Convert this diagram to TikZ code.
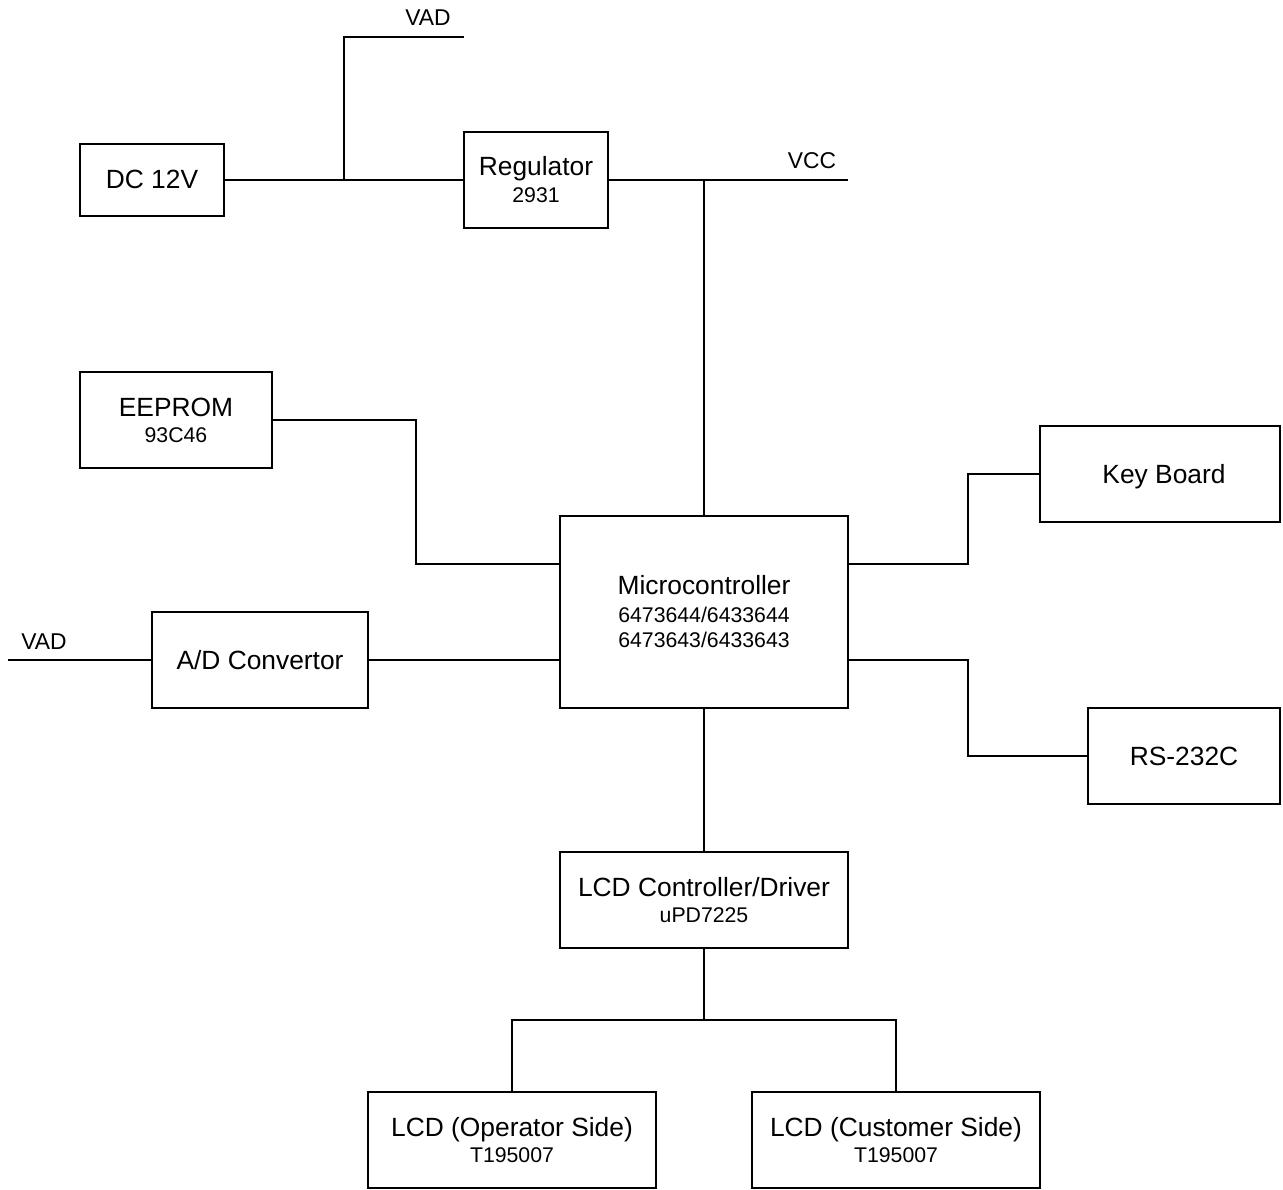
\documentclass[tikz,border=0pt]{standalone}
\usepackage{fontspec}
\setmainfont{Liberation Sans}
\begin{document}
\begin{tikzpicture}[x=0.02cm,y=-0.02cm,
  box/.style={draw,line width=0.7pt,inner sep=0pt,minimum height=1.92cm},
  wire/.style={line width=0.7pt},
  maintxt/.style={anchor=base,inner sep=0pt,font=\fontsize{15}{17}\selectfont},
  subtxt/.style={anchor=base,inner sep=0pt,font=\fontsize{12.1}{14}\selectfont},
  sigtxt/.style={anchor=base,inner sep=0pt,font=\fontsize{13}{15}\selectfont}]
\useasboundingbox[fill=white] (0,0) rectangle (1283,1189);

% boxes
\node[box,minimum width=2.88cm,minimum height=1.44cm] (dc) at (152,180) {};
\node[box,minimum width=2.88cm] (reg) at (536,180) {};
\node[box,minimum width=3.84cm] (eep) at (176,420) {};
\node[box,minimum width=5.76cm,minimum height=3.84cm] (mcu) at (704,612) {};
\node[box,minimum width=4.32cm] (adc) at (260,660) {};
\node[box,minimum width=4.8cm] (kb) at (1160,474) {};
\node[box,minimum width=3.84cm] (rs) at (1184,756) {};
\node[box,minimum width=5.76cm] (lcdc) at (704,900) {};
\node[box,minimum width=5.76cm] (lcdo) at (512,1140) {};
\node[box,minimum width=5.76cm] (lcdu) at (896,1140) {};

% texts
\node[maintxt] (dcT) at (152,189) {DC 12V};
\node[maintxt] (regT) at (536,176) {Regulator};
\node[subtxt] (regS) at (536,202.5) {2931};
\node[maintxt] (eepT) at (176,416) {EEPROM};
\node[subtxt] (eepS) at (176,442.5) {93C46};
\node[maintxt] (mcuT) at (704,594) {Microcontroller};
\node[subtxt] (mcuS1) at (704,622) {6473644/6433644};
\node[subtxt] (mcuS2) at (704,647) {6473643/6433643};
\node[maintxt] (adcT) at (260,669) {A/D Convertor};
\node[maintxt] (kbT) at (1164,483) {Key Board};
\node[maintxt] (rsT) at (1184,765) {RS-232C};
\node[maintxt] (lcdcT) at (704,896) {LCD Controller/Driver};
\node[subtxt] (lcdcS) at (704,922.5) {uPD7225};
\node[maintxt] (lcdoT) at (512,1136) {LCD (Operator Side)};
\node[subtxt] (lcdoS) at (512,1162.5) {T195007};
\node[maintxt] (lcduT) at (896,1136) {LCD (Customer Side)};
\node[subtxt] (lcduS) at (896,1162.5) {T195007};

% signal labels
\node[sigtxt] (vadT) at (428,26) {VAD};
\node[sigtxt] (vccT) at (812,169) {VCC};
\node[sigtxt] (vadL) at (44,649) {VAD};

% coordinates
\coordinate (j1) at (344,180);
\coordinate (vadEnd) at (464,37);
\coordinate (j2) at (704,180);
\coordinate (vccEnd) at (848,180);
\coordinate (vadIn) at (8,660);
\coordinate (j3) at (704,1020);

% connectors
\draw[wire] (dc.east) -- (reg.west);
\draw[wire] (j1) |- (vadEnd);
\draw[wire] (reg.east) -- (vccEnd);
\draw[wire] (j2) -- (mcu.north);
\draw[wire] (eep.east) -- (416,420) |- (mcu.west |- 0,564);
\draw[wire] (adc.east) -- (mcu.west |- adc.east);
\draw[wire] (vadIn) -- (adc.west);
\draw[wire] (mcu.east |- 0,564) -- (968,564) |- (kb.west);
\draw[wire] (mcu.east |- 0,660) -- (968,660) |- (rs.west);
\draw[wire] (mcu.south) -- (lcdc.north);
\draw[wire] (lcdc.south) -- (j3);
\draw[wire] (lcdo.north) |- (j3);
\draw[wire] (lcdu.north) |- (j3);
\end{tikzpicture}
\end{document}
